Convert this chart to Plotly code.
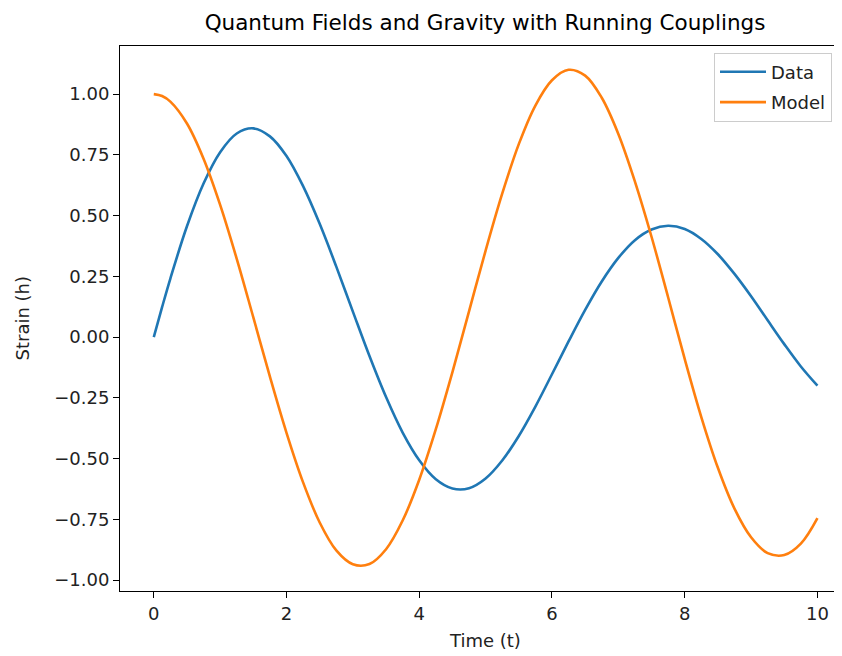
import plotly.graph_objects as go

# Time samples
time_t = [0.0, 0.125, 0.25, 0.5, 0.75, 1.0, 1.25, 1.5, 1.75, 2.0, 2.25, 2.5, 2.75, 3.0, 3.25,
          3.5, 3.75, 4.0, 4.25, 4.5, 4.75, 5.0, 5.25, 5.5, 5.75, 6.0, 6.25, 6.5, 6.75,
          7.0, 7.25, 7.5, 7.75, 8.0, 8.25, 8.5, 8.75, 9.0, 9.25, 9.5, 9.75, 10.0]

data_strain = [0.000, 0.123, 0.241, 0.456, 0.632, 0.761, 0.838, 0.859, 0.826, 0.745, 0.621,
               0.466, 0.290, 0.105, -0.078, -0.247, -0.393, -0.507, -0.585, -0.623,
               -0.622, -0.582, -0.508, -0.407, -0.286, -0.153, -0.018, 0.112, 0.229,
               0.326, 0.399, 0.443, 0.458, 0.445, 0.404, 0.341, 0.260, 0.168, 0.069,
               -0.029, -0.121, -0.200]

model_strain = [1.000, 0.992, 0.969, 0.879, 0.734, 0.544, 0.322, 0.081, -0.163, -0.394, -0.598,
                -0.763, -0.878, -0.935, -0.934, -0.873, -0.755, -0.587, -0.379, -0.144,
                0.106, 0.356, 0.590, 0.794, 0.953, 1.057, 1.100, 1.076, 0.985, 0.836,
                0.640, 0.413, 0.164, -0.090, -0.329, -0.538, -0.706, -0.824, -0.889,
                -0.897, -0.850, -0.745]

title_text = "Quantum Fields and Gravity with Running Couplings"
x_label = "Time (t)"
y_label = "Strain (h)"

FONT = "DejaVu Sans"

fig = go.Figure()
fig.add_trace(go.Scatter(x=time_t, y=data_strain, mode="lines", name="Data", legendgroup="a",
                         line=dict(color="#1f77b4", width=2.6, shape="spline", smoothing=1.0)))
fig.add_trace(go.Scatter(x=time_t, y=model_strain, mode="lines", name="Model", legendgroup="b",
                         line=dict(color="#ff7f0e", width=2.6, shape="spline", smoothing=1.0)))

# page body has an 8px margin: figure is 834x648 placed at (8, 8)
PLOT_H = 648 - 38 - 65
PLOT_W = 834 - 112 - 2

fig.update_layout(
    width=834, height=648,
    margin=dict(l=112, r=2, t=38, b=65),
    paper_bgcolor="white", plot_bgcolor="white",
    font=dict(family=FONT, size=18, color="black"),
    showlegend=True,
    legend=dict(x=1.0 - 8 / PLOT_W, xanchor="right", y=0.988, yanchor="top",
                bgcolor="rgba(255,255,255,0.8)", bordercolor="#cccccc", borderwidth=1,
                font=dict(family=FONT, size=18, color="#222222"),
                itemwidth=46, tracegroupgap=4, traceorder="grouped"),
    xaxis=dict(range=[-0.509, 10.34], tickvals=[0, 2, 4, 6, 8, 10],
               showline=True, linecolor="black", linewidth=1, mirror=True,
               ticks="outside", ticklen=6, tickwidth=1, tickcolor="black",
               showgrid=False, zeroline=False,
               tickfont=dict(family=FONT, size=18, color="#222222")),
    yaxis=dict(range=[-1.045, 1.198], tickvals=[-1.0, -0.75, -0.5, -0.25, 0.0, 0.25, 0.5, 0.75, 1.0],
               tickformat=".2f",
               showline=True, linecolor="black", linewidth=1, mirror=False,
               ticks="outside", ticklen=6, tickwidth=1, tickcolor="black",
               showgrid=False, zeroline=False,
               tickfont=dict(family=FONT, size=18, color="#222222")),
    title=dict(text=title_text, xref="container", x=(485 - 8) / 834, xanchor="center",
               yref="container", y=1 - 14 / 648, yanchor="middle",
               font=dict(family=FONT, size=21.5, color="black")),
    annotations=[
        dict(text=x_label, xref="paper", yref="paper", x=(485 - 120) / PLOT_W,
             y=-(641 - 591) / PLOT_H,
             xanchor="center", yanchor="middle", showarrow=False,
             font=dict(family=FONT, size=18, color="#222222")),
        dict(text=y_label, xref="paper", yref="paper", x=-(120 - 22) / PLOT_W, y=0.5,
             xanchor="center", yanchor="middle", showarrow=False, textangle=-90,
             font=dict(family=FONT, size=18, color="#222222")),
    ],
)

fig.write_html("out.html")
